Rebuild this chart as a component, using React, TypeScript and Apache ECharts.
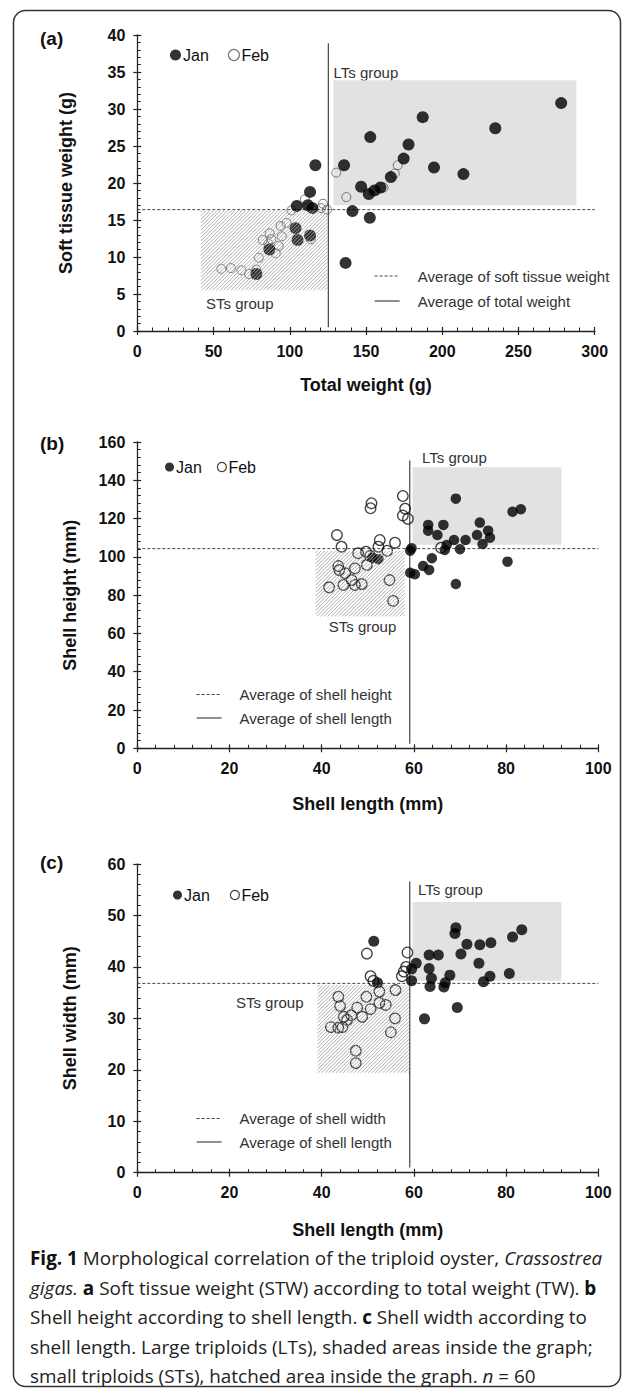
import React, { useEffect, useRef } from 'react';
import * as echarts from 'echarts';

// ---------- Panel (a): Soft tissue weight vs Total weight ----------
const aJan = [
  [278.0, 30.8], [234.8, 27.4], [187.2, 28.9], [152.8, 26.2], [177.9, 25.2], [174.7, 23.3],
  [194.6, 22.1], [213.9, 21.2], [166.3, 20.8], [135.6, 22.4], [116.8, 22.4], [146.8, 19.5],
  [151.8, 18.5], [155.6, 19.0], [159.5, 19.4], [141.1, 16.2], [152.5, 15.3], [136.6, 9.2],
  [113.3, 18.8], [104.6, 16.9], [111.9, 17.0], [114.9, 16.6], [103.8, 13.9], [105.1, 12.3],
  [113.3, 12.9], [86.6, 11.0], [78.1, 7.7]
];
const aFeb = [
  [55.1, 8.4], [61.4, 8.5], [68.3, 8.2], [73.3, 7.7], [78.1, 8.3], [79.7, 9.9], [82.3, 12.3],
  [86.8, 13.2], [87.9, 12.4], [92.7, 11.5], [90.8, 10.5], [94.8, 12.8], [94.0, 14.2], [97.9, 14.6],
  [101.1, 16.3], [109.9, 17.8], [113.8, 12.4], [121.8, 17.2], [120.5, 16.6], [124.4, 16.4],
  [130.5, 21.4], [137.1, 18.1], [161.5, 19.4], [168.9, 21.3], [170.8, 22.4], [86.0, 11.8]
];
const aAvgX = 125.3;
const aAvgY = 16.4;
const aVLine = [0.5, 38.9];
const aLTs = [128.7, 17.0, 288.0, 33.9];
const aSTs = [41.7, 5.5, 124.6, 16.3];
const aXTicks = { min: 0, max: 300, interval: 50 };
const aYTicks = { min: 0, max: 40, interval: 5 };
const aAvgNames = ['Average of soft tissue weight', 'Average of total weight'];

// ---------- Panel (b): Shell height vs Shell length ----------
const bJan = [
  [59.2, 103.2], [59.5, 104.5], [59.2, 91.7], [60.2, 90.9], [62.0, 95.2], [63.3, 93.2], [63.9, 99.3],
  [63.1, 116.7], [63.1, 113.7], [65.1, 111.4], [66.4, 116.7], [66.7, 103.6], [67.1, 106.2],
  [68.7, 108.8], [69.1, 130.4], [69.1, 85.8], [70.0, 104.0], [71.2, 108.8], [73.7, 111.4],
  [74.3, 117.9], [74.9, 106.7], [76.1, 113.7], [76.5, 110.0], [80.3, 97.5], [81.4, 123.6],
  [83.2, 124.9], [51.0, 99.5], [52.3, 98.8]
];
const bFeb = [
  [41.6, 84.1], [43.3, 111.4], [44.3, 105.3], [43.6, 95.2], [43.8, 93.1], [45.1, 91.4], [44.7, 85.3],
  [46.5, 87.9], [47.2, 85.3], [48.7, 85.8], [47.2, 94.0], [49.8, 95.8], [47.9, 101.9], [49.6, 102.7],
  [50.6, 125.4], [50.8, 128.0], [52.6, 108.8], [52.3, 105.3], [54.2, 103.2], [55.9, 107.4],
  [54.7, 87.9], [55.5, 77.0], [57.6, 131.8], [58.1, 125.2], [57.6, 121.6], [58.7, 119.9],
  [50.5, 100.5], [65.9, 104.8]
];
const bAvgX = 59.1;
const bAvgY = 104.3;
const bVLine = [2.4, 150.4];
const bLTs = [59.7, 106.3, 92.0, 146.8];
const bSTs = [38.7, 68.9, 58.0, 103.1];
const bXTicks = { min: 0, max: 100, interval: 20 };
const bYTicks = { min: 0, max: 160, interval: 20 };
const bAvgNames = ['Average of shell height', 'Average of shell length'];

// ---------- Panel (c): Shell width vs Shell length ----------
const cJan = [
  [51.3, 45.0], [69.1, 47.6], [68.9, 46.5], [71.5, 44.4], [74.3, 44.3], [76.7, 44.7], [81.4, 45.8],
  [83.4, 47.2], [63.3, 42.3], [65.3, 42.3], [70.2, 42.5], [74.1, 40.7], [80.7, 38.7], [76.5, 38.2],
  [75.1, 37.1], [60.5, 40.7], [59.5, 39.6], [59.5, 37.3], [63.3, 39.7], [63.5, 36.2], [63.8, 37.8],
  [67.8, 38.4], [66.5, 36.1], [66.8, 36.9], [69.4, 32.1], [62.3, 29.9], [52.1, 36.9]
];
const cFeb = [
  [49.8, 42.6], [58.6, 42.8], [58.3, 40.0], [57.8, 39.1], [57.4, 38.2], [50.6, 38.2], [51.2, 37.3],
  [56.0, 35.5], [52.5, 35.2], [49.7, 34.2], [43.6, 34.2], [44.0, 32.4], [50.6, 31.8], [47.7, 32.1],
  [52.5, 33.0], [53.9, 32.6], [44.8, 30.3], [46.4, 30.6], [48.8, 30.3], [55.9, 30.0], [42.0, 28.3],
  [43.6, 28.2], [44.5, 28.3], [55.0, 27.3], [47.4, 23.7], [47.4, 21.3], [45.5, 29.7]
];
const cAvgX = 59.1;
const cAvgY = 36.8;
const cVLine = [1.0, 56.6];
const cLTs = [59.7, 37.3, 92.0, 52.6];
const cSTs = [39.1, 19.4, 58.9, 36.5];
const cXTicks = { min: 0, max: 100, interval: 20 };
const cYTicks = { min: 0, max: 60, interval: 10 };
const cAvgNames = ['Average of shell width', 'Average of shell length'];

const captionLines = [
  '{b|Fig. 1} Morphological correlation of the triploid oyster, {i|Crassostrea}',
  '{i|gigas.} {b|a} Soft tissue weight (STW) according to total weight (TW). {b|b}',
  'Shell height according to shell length. {b|c} Shell width according to',
  'shell length. Large triploids (LTs), shaded areas inside the graph;',
  'small triploids (STs), hatched area inside the graph. {i|n} = 60'
];

const AX = "'Liberation Sans', Arial, sans-serif";
const CAP = "'Open Sans', sans-serif";
const CAP_SIZE = 18.9;

const rectRender = (params: any, api: any) => {
  const p1 = api.coord([api.value(0), api.value(3)]);
  const p2 = api.coord([api.value(2), api.value(1)]);
  return {
    type: 'rect',
    shape: { x: p1[0], y: p1[1], width: p2[0] - p1[0], height: p2[1] - p1[1] },
    style: { fill: '#e2e2e2' }
  };
};

const hatchRender = (params: any, api: any) => {
  const p1 = api.coord([api.value(0), api.value(3)]);
  const p2 = api.coord([api.value(2), api.value(1)]);
  const L = p1[0], T = p1[1], R = p2[0], B = p2[1];
  const step = 3.6;
  const children: any[] = [];
  for (let c = L + T + step / 2; c < R + B; c += step) {
    const xs = Math.max(L, c - B);
    const xe = Math.min(R, c - T);
    if (xe <= xs) continue;
    children.push({
      type: 'line',
      shape: { x1: xs, y1: c - xs, x2: xe, y2: c - xe },
      style: { stroke: '#a6a6a6', lineWidth: 0.9 }
    });
  }
  return { type: 'group', children };
};

function axisPair(dim: 'x' | 'y', gridIndex: number, t: any, name: string, nameGap: number) {
  const position = dim === 'x' ? 'bottom' : 'left';
  const main = {
    type: 'value', gridIndex, position, min: t.min, max: t.max, interval: t.interval,
    name, nameLocation: 'middle', nameGap, nameRotate: dim === 'y' ? 90 : 0,
    nameTextStyle: { fontFamily: AX, fontWeight: 'bold', fontSize: 18, color: '#111' },
    axisLine: { show: true, onZero: false, lineStyle: { color: '#222', width: 1.3 } },
    axisTick: { show: true, inside: false, length: 4, lineStyle: { color: '#222', width: 1.2 } },
    minorTick: { show: false },
    axisLabel: { margin: 12, fontFamily: AX, fontWeight: 'bold', fontSize: 16, color: '#111' },
    splitLine: { show: false }
  };
  const overlay = {
    type: 'value', gridIndex, position, min: t.min, max: t.max, interval: t.interval,
    axisLine: { show: false, onZero: false },
    axisTick: { show: true, inside: true, length: 4, lineStyle: { color: '#222', width: 1.2 } },
    minorTick: { show: true, splitNumber: 5, length: 3.5, lineStyle: { color: '#222', width: 1 } },
    axisLabel: { show: false },
    splitLine: { show: false },
    minorSplitLine: { show: false }
  };
  return [main, overlay];
}

function panelSeries(gi: number, key: string, jan: number[][], feb: number[][], avgX: number, avgY: number,
  vLine: number[], xr: any, lts: number[], sts: number[], names: string[],
  janSize: number, febSize: number, febBorder: string, febWidth: number) {
  const ax = { xAxisIndex: gi * 2, yAxisIndex: gi * 2 };
  return [
    { type: 'custom', name: 'lts-' + key, ...ax, z: 1, silent: true, renderItem: rectRender, data: [lts] },
    {
      type: 'line', name: names[0] + '-' + key, ...ax, z: 2, silent: true, symbol: 'none',
      data: [[xr.min, avgY], [xr.max, avgY]],
      lineStyle: { color: '#444', width: 1, type: [3, 2] }
    },
    {
      type: 'line', name: names[1] + '-' + key, ...ax, z: 2, silent: true, symbol: 'none',
      data: [[avgX, vLine[0]], [avgX, vLine[1]]],
      lineStyle: { color: '#444', width: 1.2, type: 'solid' }
    },
    {
      type: 'scatter', name: 'Feb-' + key, ...ax, z: 3, symbol: 'circle', symbolSize: febSize, data: feb,
      itemStyle: { color: 'rgba(255,255,255,0)', borderColor: febBorder, borderWidth: febWidth }
    },
    {
      type: 'scatter', name: 'Jan-' + key, ...ax, z: 4, symbol: 'circle', symbolSize: janSize, data: jan,
      itemStyle: { color: '#000' }
    },
    { type: 'custom', name: 'sts-' + key, ...ax, z: 5, silent: true, renderItem: hatchRender, data: [sts] }
  ];
}

function monthLegend(key: string, left: number, top: number, size: number, gap: number) {
  return {
    data: ['Jan-' + key, 'Feb-' + key], orient: 'horizontal', left, top, itemWidth: size, itemHeight: size,
    itemGap: gap, padding: 0, selectedMode: false, formatter: (n: string) => n.split('-')[0],
    itemStyle: { borderWidth: 1.2 },
    textStyle: { fontFamily: AX, fontSize: 16, color: '#111', padding: [0, 0, 0, -3] }
  };
}

// legend sample lines + texts for the average lines
function avgKey(names: string[], x: number, y1: number, y2: number, textX: number) {
  return [
    {
      type: 'line', silent: true, shape: { x1: x, y1: y1, x2: x + 25, y2: y1 },
      style: { stroke: '#444', lineWidth: 1, lineDash: [3, 2] }
    },
    {
      type: 'line', silent: true, shape: { x1: x, y1: y2, x2: x + 25, y2: y2 },
      style: { stroke: '#444', lineWidth: 1.2 }
    },
    {
      type: 'text', x: textX, y: y1, silent: true,
      style: { text: names[0], fontFamily: AX, fontSize: 15, fill: '#333', textVerticalAlign: 'middle' }
    },
    {
      type: 'text', x: textX, y: y2, silent: true,
      style: { text: names[1], fontFamily: AX, fontSize: 15, fill: '#333', textVerticalAlign: 'middle' }
    }
  ];
}

function groupText(text: string, x: number, y: number, align: string = 'left') {
  return {
    type: 'text', x, y, silent: true,
    style: { text, fontFamily: AX, fontSize: 15, fill: '#333', textAlign: align, textVerticalAlign: 'middle' }
  };
}

function panelLabel(text: string, x: number, y: number) {
  return {
    type: 'text', x, y, silent: true,
    style: { text, fontFamily: AX, fontSize: 19, fontWeight: 'bold', fill: '#111', textVerticalAlign: 'middle' }
  };
}

export default function App() {
  const ref = useRef<HTMLDivElement>(null);
  useEffect(() => {
    if (!ref.current) return;
    const chart = echarts.init(ref.current, undefined, { renderer: 'svg' });
    const [ax0, ax1] = axisPair('x', 0, aXTicks, 'Total weight (g)', 45);
    const [ay0, ay1] = axisPair('y', 0, aYTicks, 'Soft tissue weight (g)', 62);
    const [bx0, bx1] = axisPair('x', 1, bXTicks, 'Shell length (mm)', 47);
    const [by0, by1] = axisPair('y', 1, bYTicks, 'Shell height (mm)', 58);
    const [cx0, cx1] = axisPair('x', 2, cXTicks, 'Shell length (mm)', 48);
    const [cy0, cy1] = axisPair('y', 2, cYTicks, 'Shell width (mm)', 58);

    const rich = {
      b: { fontFamily: CAP, fontSize: CAP_SIZE, fontWeight: 'bold', fill: '#111' },
      i: { fontFamily: CAP, fontSize: CAP_SIZE, fontStyle: 'italic', fill: '#222' }
    };
    const caption = captionLines.map((t, i) => ({
      type: 'text', x: 30, y: 1258 + i * 29.6, silent: true,
      style: { text: t, rich, fontFamily: CAP, fontSize: CAP_SIZE, fill: '#222', textVerticalAlign: 'middle' }
    }));

    const option: any = {
      animation: false,
      backgroundColor: '#fff',
      grid: [
        { left: 137.3, top: 35, width: 457.4, height: 296, containLabel: false },
        { left: 137.3, top: 442, width: 461, height: 306.3, containLabel: false },
        { left: 137.3, top: 864, width: 461, height: 308.7, containLabel: false }
      ],
      xAxis: [ax0, ax1, bx0, bx1, cx0, cx1],
      yAxis: [ay0, ay1, by0, by1, cy0, cy1],
      legend: [
        monthLegend('a', 170, 47, 11, 19),
        monthLegend('b', 165, 459, 9, 15),
        monthLegend('c', 173, 887, 9, 20)
      ],
      series: [
        ...panelSeries(0, 'a', aJan, aFeb, aAvgX, aAvgY, aVLine, aXTicks, aLTs, aSTs, aAvgNames, 12, 9, '#555', 1),
        ...panelSeries(1, 'b', bJan, bFeb, bAvgX, bAvgY, bVLine, bXTicks, bLTs, bSTs, bAvgNames, 10.5, 10.5, '#111', 1.3),
        ...panelSeries(2, 'c', cJan, cFeb, cAvgX, cAvgY, cVLine, cXTicks, cLTs, cSTs, cAvgNames, 11, 10.5, '#111', 1.3)
      ],
      graphic: [
        {
          type: 'rect', silent: true, z: -1,
          shape: { x: 13.5, y: 10.5, width: 607, height: 1376, r: 12 },
          style: { fill: 'none', stroke: '#333', lineWidth: 1.5 }
        },
        panelLabel('(a)', 40, 38),
        panelLabel('(b)', 40, 443),
        panelLabel('(c)', 40, 862),
        groupText('LTs group', 333.5, 72.5),
        groupText('STs group', 206, 303),
        groupText('LTs group', 422, 457.6),
        groupText('STs group', 362.5, 626.6, 'center'),
        groupText('LTs group', 418, 889.2),
        groupText('STs group', 269.7, 1002.2, 'center'),
        ...avgKey(aAvgNames, 374.6, 276, 301, 417.8),
        ...avgKey(bAvgNames, 196.6, 694.5, 718, 239.4),
        ...avgKey(cAvgNames, 196.6, 1118.5, 1142, 239.4),
        ...caption
      ]
    };
    chart.setOption(option);
    return () => chart.dispose();
  }, []);
  return (
    <div
      ref={ref}
      style={{ position: 'absolute', left: 0, top: 0, width: 633, height: 1389, background: '#fff' }}
    />
  );
}
